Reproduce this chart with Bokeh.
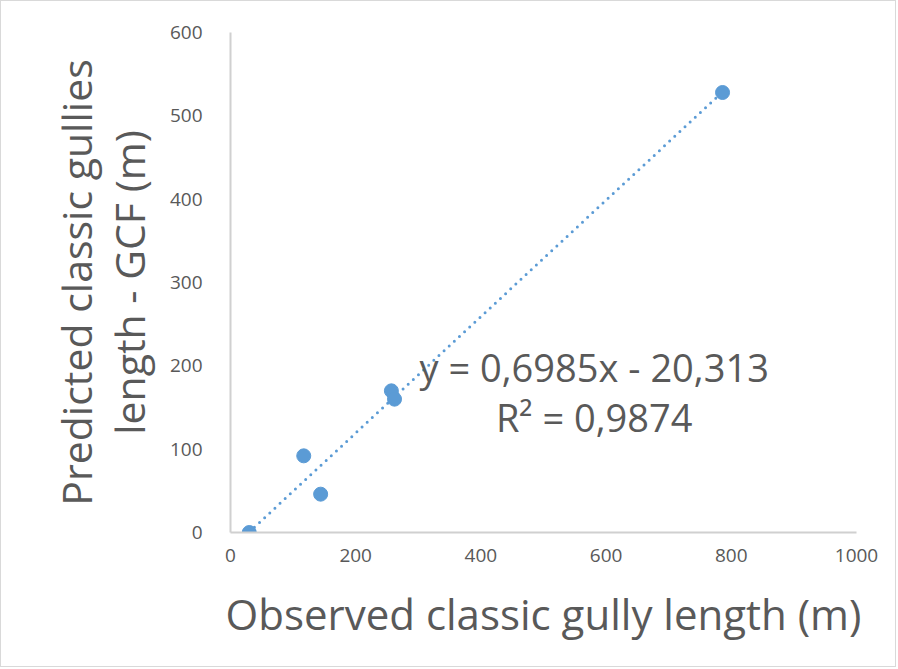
from bokeh.plotting import figure
from bokeh.models import Range1d, FixedTicker, Label
from bokeh.embed import file_html
from bokeh.resources import INLINE

observed = [30, 117, 144, 257, 262, 786]
predicted = [0, 92, 46, 170, 160, 528]
slope = 0.6985
intercept = -20.313
eq_text = "y = 0,6985x - 20,313"
r2_text = "R² = 0,9874"
x_ticks = [0, 200, 400, 600, 800, 1000]
y_ticks = [0, 100, 200, 300, 400, 500, 600]

BLUE = "#5b9bd5"
GREY = "#595959"
FONT = "Open Sans"

p = figure(width=896, height=667, output_backend="svg", toolbar_location=None,
           x_range=Range1d(0, 1000), y_range=Range1d(0, 600),
           min_border_left=229, min_border_right=41, min_border_top=31, min_border_bottom=136)
p.outline_line_color = None
p.xgrid.visible = False
p.ygrid.visible = False

for ax in (p.xaxis, p.yaxis):
    ax.axis_line_color = "#d0d0d0"
    ax.axis_line_width = 2
    ax.major_tick_line_color = None
    ax.minor_tick_line_color = None
    ax.major_label_text_font = FONT
    ax.major_label_text_font_size = "19px"
    ax.major_label_text_color = GREY
    ax.axis_label_text_font = FONT
    ax.axis_label_text_font_style = "normal"
    ax.axis_label_text_color = GREY
    ax.axis_label_text_font_size = "42px"

p.xaxis.ticker = FixedTicker(ticks=x_ticks)
p.yaxis.ticker = FixedTicker(ticks=y_ticks)
p.xaxis.major_label_standoff = 10
p.yaxis.major_label_standoff = 22
p.xaxis.axis_label = "Observed classic gully length (m)"
p.yaxis.axis_label = "Predicted classic gullies\nlength - GCF (m)"
p.yaxis.axis_label_text_font_size = "41px"
p.yaxis.axis_label_text_line_height = 0.95
p.xaxis.axis_label_standoff = 20
p.yaxis.axis_label_standoff = 10

x0, x1 = min(observed), max(observed)
p.line([x0, x1], [slope * x0 + intercept, slope * x1 + intercept],
       line_color=BLUE, line_width=3, line_dash="0 7", line_cap="round")
p.scatter(observed, predicted, size=14, fill_color=BLUE, line_color=BLUE)

p.add_layout(Label(x=581, y=199, text=eq_text, text_align="center", text_baseline="alphabetic",
                   text_font=FONT, text_font_size="38px", text_color=GREY))
p.add_layout(Label(x=581, y=139, text=r2_text, text_align="center", text_baseline="alphabetic",
                   text_font=FONT, text_font_size="38px", text_color=GREY))

p.styles = {"border": "1px solid #d9d9d9"}

open("out.html", "w").write(file_html(p, INLINE))
